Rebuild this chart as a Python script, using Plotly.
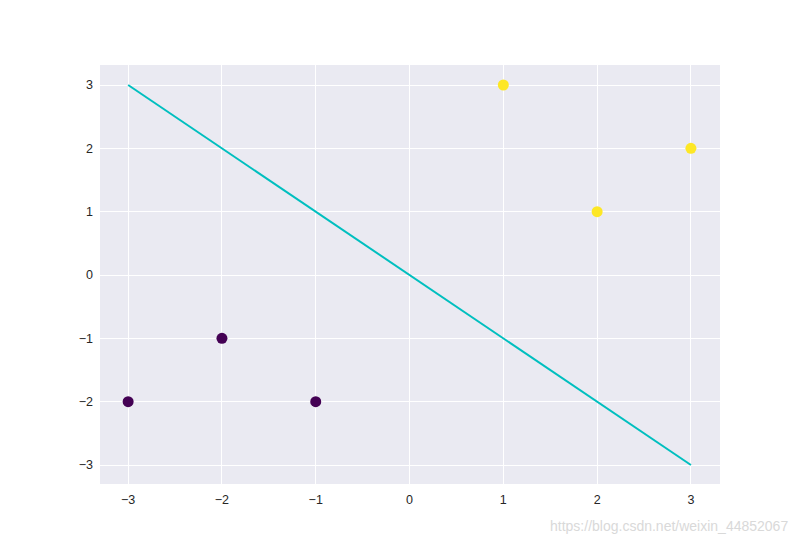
import plotly.graph_objects as go

# data
neg_x = [-3, -2, -1]
neg_y = [-2, -1, -2]
pos_x = [1, 2, 3]
pos_y = [3, 1, 2]
line_x = [-3, 3]
line_y = [3, -3]
ticks = [-3, -2, -1, 0, 1, 2, 3]
tick_text = ["\u22123", "\u22122", "\u22121", "0", "1", "2", "3"]

fig = go.Figure()
fig.add_trace(go.Scatter(x=line_x, y=line_y, mode="lines",
                         line=dict(color="#00BFBF", width=2), showlegend=False))
fig.add_trace(go.Scatter(x=neg_x, y=neg_y, mode="markers",
                         marker=dict(color="#440154", size=11), showlegend=False))
fig.add_trace(go.Scatter(x=pos_x, y=pos_y, mode="markers",
                         marker=dict(color="#FDE725", size=11), showlegend=False))

axis_common = dict(tickvals=ticks, ticktext=tick_text, showgrid=True,
                   gridcolor="white", gridwidth=1.3, zeroline=False,
                   showline=False, ticks="", tickfont=dict(size=12.5, color="#262626"))
fig.update_xaxes(range=[-3.3, 3.31], ticklabelstandoff=6, **axis_common)
fig.update_yaxes(range=[-3.3, 3.316], ticklabelstandoff=6, **axis_common)

fig.update_layout(
    width=800, height=544,
    margin=dict(l=100, r=80, t=65, b=60),
    plot_bgcolor="#EAEAF2", paper_bgcolor="white",
    font=dict(family="Liberation Sans, Arial, sans-serif"),
    annotations=[dict(text="https://blog.csdn.net/weixin_44852067",
                      xref="paper", yref="paper", x=1.0, y=-0.0,
                      xanchor="right", yanchor="top", yshift=-32, xshift=70,
                      showarrow=False,
                      font=dict(size=14, color="#D9D9D9"))],
)

fig.write_html("out.html")
